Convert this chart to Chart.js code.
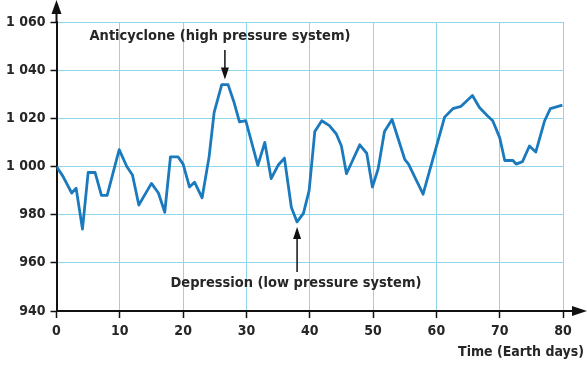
<!DOCTYPE html>
<html>
<head>
<meta charset="utf-8">
<script src="https://cdn.jsdelivr.net/npm/chart.js@4"></script>
<style>
  html, body { margin: 0; padding: 0; background: #fff; }
  #wrap { width: 587px; height: 365px; position: relative; }
</style>
</head>
<body>
<div id="wrap"><canvas id="pressureChart" width="587" height="365"></canvas></div>
<script>
// === Data ===
const days = [0, 1, 2.4, 3.1, 4.1, 5, 6.1, 7.1, 8, 9.9, 11.1, 12, 13, 15, 16.1, 17.1, 18, 19.2, 20, 21, 21.8, 23,
  24.1, 24.9, 26.1, 27.1, 28, 28.9, 29.9, 31.8, 32.9, 33.9, 35, 36, 37.1, 38, 39, 39.9, 40.8, 41.9, 43.1, 44.2,
  45, 45.8, 47.9, 49, 49.9, 50.8, 51.8, 53, 55, 55.6, 57.9, 61.3, 62.6, 63.9, 65.7, 66.8, 68.1, 68.9, 70, 70.8,
  72.1, 72.6, 73.6, 74.7, 75.7, 77.1, 78, 79.9];
const pressure = [1000, 996, 989, 991, 974, 997.5, 997.5, 988, 988, 1007, 1000, 996.5, 984, 993, 989, 981, 1004, 1004, 1001, 991.5, 993.5, 987,
  1004, 1022.5, 1034, 1034, 1027, 1018.5, 1019, 1000.5, 1010, 995, 1000.5, 1003.5, 983, 977, 980.5, 990, 1014.5, 1019, 1017, 1013.5,
  1008.5, 997, 1009, 1005.5, 991.5, 999, 1014.5, 1019.5, 1003, 1001, 988.5, 1020.5, 1024, 1025, 1029.5, 1024.5, 1021, 1019, 1012, 1002.5,
  1002.5, 1001, 1002, 1008.5, 1006, 1019, 1024, 1025.5];
const xRange = [0, 80];
const yRange = [940, 1060];
const xTitle = 'Time (Earth days)';
const highLabel = 'Anticyclone (high pressure system)';
const lowLabel = 'Depression (low pressure system)';
const highPoint = { x: 26.6, y: 1034 };
const lowPoint = { x: 38, y: 977 };

const FONT = '"DejaVu Sans Condensed", "DejaVu Sans", sans-serif';
const INK = '#262626';
const GRID = '#8fd6ea';
const LINE = '#1b79bd';

const fmt = v => String(v).replace(/\B(?=(\d{3})+(?!\d))/g, ' ');

function arrowHead(ctx, x, y, dir, len, half) {
    // dir: 'up' | 'down' | 'right'
    ctx.beginPath();
    ctx.moveTo(x, y);
    if (dir === 'up') { ctx.lineTo(x - half, y + len); ctx.lineTo(x + half, y + len); }
    else if (dir === 'down') { ctx.lineTo(x - half, y - len); ctx.lineTo(x + half, y - len); }
    else { ctx.lineTo(x - len, y - half); ctx.lineTo(x - len, y + half); }
    ctx.closePath();
    ctx.fill();
}

const decorations = {
    id: 'decorations',
    afterDraw(chart) {
        const { ctx, chartArea, scales } = chart;
        const x = scales.x, y = scales.y;
        ctx.save();
        ctx.strokeStyle = '#111';
        ctx.fillStyle = '#111';
        ctx.lineWidth = 2;
        // axis extensions with arrows
        ctx.beginPath();
        ctx.moveTo(chartArea.left, chartArea.top);
        ctx.lineTo(chartArea.left, 8);
        ctx.moveTo(chartArea.right, chartArea.bottom);
        ctx.lineTo(579, chartArea.bottom);
        ctx.stroke();
        arrowHead(ctx, chartArea.left, 0, 'up', 14, 5);
        arrowHead(ctx, 587, chartArea.bottom, 'right', 15, 5);

        // annotations
        ctx.fillStyle = INK;
        ctx.font = 'bold 14.5px ' + FONT;
        ctx.textAlign = 'center';
        ctx.textBaseline = 'middle';
        const hx = x.getPixelForValue(highPoint.x), hy = y.getPixelForValue(highPoint.y);
        ctx.fillText(highLabel, 220, 36);
        const lx = x.getPixelForValue(lowPoint.x), ly = y.getPixelForValue(lowPoint.y);
        ctx.fillText(lowLabel, 296, 283);

        ctx.fillStyle = '#111';
        ctx.lineWidth = 1.5;
        ctx.beginPath();
        ctx.moveTo(hx, 50); ctx.lineTo(hx, hy - 8);
        ctx.moveTo(lx, 272); ctx.lineTo(lx, ly + 10);
        ctx.stroke();
        arrowHead(ctx, hx, hy - 5, 'down', 12, 4);
        arrowHead(ctx, lx, ly + 5, 'up', 12, 4);

        // x axis title
        ctx.fillStyle = INK;
        ctx.font = 'bold 14px ' + FONT;
        ctx.textAlign = 'right';
        ctx.fillText(xTitle, 584, 352);
        ctx.restore();
    }
};

const ctx = document.getElementById('pressureChart').getContext('2d');
new Chart(ctx, {
    type: 'line',
    data: {
        datasets: [{
            data: days.map((d, i) => ({ x: d, y: pressure[i] })),
            borderColor: LINE,
            borderWidth: 2.8,
            pointRadius: 0,
            tension: 0,
            borderJoinStyle: 'round',
            fill: false
        }]
    },
    options: {
        responsive: false,
        animation: false,
        events: [],
        layout: { padding: { top: 22, right: 24, bottom: 0, left: 0 } },
        plugins: { legend: { display: false }, tooltip: { enabled: false } },
        scales: {
            x: {
                type: 'linear',
                min: xRange[0], max: xRange[1],
                afterFit: s => { s.height = 54; },
                grid: { color: GRID, lineWidth: 1, tickColor: '#111', tickLength: 7, tickWidth: 1.5 },
                border: { color: '#111', width: 2 },
                ticks: { stepSize: 10, color: INK, padding: 5, font: { family: FONT, size: 14, weight: 'bold' } }
            },
            y: {
                min: yRange[0], max: yRange[1],
                afterFit: s => { s.width = 56.5; },
                grid: { color: GRID, lineWidth: 1, tickColor: '#111', tickLength: 6, tickWidth: 1.5 },
                border: { color: '#111', width: 2 },
                ticks: { stepSize: 20, color: INK, padding: 5, font: { family: FONT, size: 14, weight: 'bold' }, callback: v => fmt(v) }
            }
        }
    },
    plugins: [decorations]
});
</script>
</body>
</html>
